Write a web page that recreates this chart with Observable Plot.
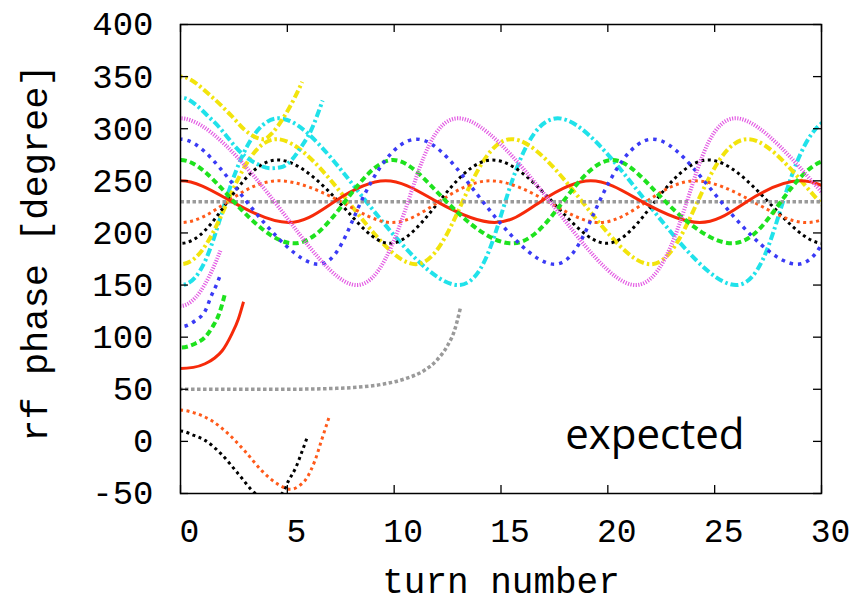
<!DOCTYPE html>
<html><head><meta charset="utf-8">
<script src="https://cdn.jsdelivr.net/npm/d3@7"></script>
<script src="https://cdn.jsdelivr.net/npm/@observablehq/plot@0.6"></script>
<style>body{margin:0;background:#fff}</style>
</head><body><div id="chart"></div>
<script>
// Tick labels
const xTicks = [0, 5, 10, 15, 20, 25, 30];
const yTicks = [-50, 0, 50, 100, 150, 200, 250, 300, 350, 400];
const xTitle = "turn number";
const yTitle = "rf phase [degree]";
const note = "expected";
const notePos = {turn: 22.2, phase: 6};

// [turn, rf phase] points, one array per starting phase
const phase10 = [[-1.15,1],[-0.6,6],[0,10],[0.6,6],[1.15,1],[1.9,-12],[2.7,-31],[3.5,-50],[4.1,-57],[4.75,-50],[5.05,-38],[5.4,-25],[5.7,-9],[5.95,5]];
const phase30 = [[-1.45,20],[-0.7,27],[0,30],[0.7,27],[1.45,20],[2.25,7],[3.0,-9],[3.8,-28],[4.55,-41],[5.15,-46],[5.6,-42],[5.85,-37],[6.3,-18],[6.6,1],[6.95,23]];
const phase50 = [[-4,50],[0,50],[2,50],[4,50],[6,50.2],[7,50.7],[8.3,52],[9.5,55],[10.5,60],[11.4,68],[12,78],[12.5,92],[12.8,105],[13.1,128]];
const phase70 = [[-1.15,74.5],[-0.6,71],[0,70],[0.6,71],[1.15,74.5],[1.6,80],[1.95,87],[2.4,103],[2.7,117],[2.95,134]];
const phase90 = [[-1.15,100],[-0.7,94],[0,90],[0.7,94],[1.15,100],[1.5,110],[1.8,122],[2.1,143]];
const phase110 = [[-1.15,125],[-0.7,116],[0,110],[0.7,116],[1.15,125],[1.45,140],[1.7,151],[1.87,160]];
const phase130 = [[-1.15,151],[-0.7,138],[0,130],[0.7,138],[1.15,151],[1.5,165],[1.87,183]];
const phase150 = [[-4.1,230],[0,150],[2.1,230],[4.6,310],[8.7,230],[13.0,150],[15.2,230],[17.65,310],[21.8,230],[26.0,150],[28.2,230],[30.65,310],[34.8,230]];
const phase170 = [[-3.3,230],[0,170],[2.2,230],[4.5,290],[7.85,230],[11.0,170],[13.2,230],[15.5,290],[18.8,230],[22.0,170],[24.2,230],[26.6,290],[29.9,230],[33,170]];
const phase190 = [[-2.9,230],[0,190],[2.2,230],[4.55,270],[7.4,230],[9.8,190],[12.1,230],[14.6,270],[17.4,230],[19.95,190],[22.2,230],[24.7,270],[27.5,230],[30.1,190],[32.3,230]];
const phase210 = [[-2.7,230],[0,210],[2.2,230],[4.6,250],[7.5,230],[9.9,210],[12.1,230],[14.5,250],[17.2,230],[19.6,210],[21.8,230],[24.1,250],[26.8,230],[29.3,210],[31.5,230]];
const phase230 = [[0,230],[30,230]];
const phase250 = [[-2.2,230],[0,250],[2.4,230],[5.05,210],[7.2,230],[9.6,250],[12.0,230],[14.7,210],[16.85,230],[19.2,250],[21.6,230],[24.3,210],[26.5,230],[29.0,250],[31.4,230]];
const phase270 = [[-2.3,230],[0,270],[2.5,230],[5.3,190],[7.7,230],[9.95,270],[12.45,230],[15.5,190],[17.9,230],[20.2,270],[22.7,230],[25.8,190],[28.1,230],[30.4,270],[32.9,230]];
const phase290 = [[-2.6,230],[0,290],[3.1,230],[6.45,170],[8.45,230],[11.05,290],[14.15,230],[17.5,170],[19.6,230],[22.1,290],[25.3,230],[28.85,170],[30.8,230]];
const phase310 = [[-2.4,230],[0,310],[4.4,230],[8.25,150],[10.65,230],[13.0,310],[17.3,230],[21.3,150],[23.7,230],[26.05,310],[30.4,230],[34.3,150]];
const phase330 = [[-1.5,308],[0,330],[1.5,308],[3.0,274],[3.6,266],[4.2,262],[4.7,263],[5.2,270],[5.6,281],[6.1,298],[6.65,327]];
const phase350 = [[-1.5,330],[0,350],[1.5,330],[2.4,312],[3.0,299],[3.5,292],[3.9,290],[4.3,296],[4.8,310],[5.3,328],[5.7,345]];

// line styles (gnuplot-like cycle)
const styles = {
  red:     {stroke: "#f62a0a", dash: null,        width: 3},
  green:   {stroke: "#1ee21e", dash: "6,3.5",     width: 4},
  blue:    {stroke: "#3a3af5", dash: "3.5,5",     width: 3.5},
  magenta: {stroke: "#e35ce3", dash: "1.2,1.4",   width: 4},
  cyan:    {stroke: "#20e2ea", dash: "8,3,2.5,3", width: 4},
  yellow:  {stroke: "#f2e40c", dash: "8,3,2.5,3", width: 4},
  black:   {stroke: "#000000", dash: "3,3.5",     width: 3},
  orange:  {stroke: "#ff5a1a", dash: "3,3.5",     width: 3},
  gray:    {stroke: "#9a9a9a", dash: "3.5,2.5",   width: 3.5}
};

const series = [
  {pts: phase10,  style: "black",   curve: "monotone-x"},
  {pts: phase30,  style: "orange",  curve: "monotone-x"},
  {pts: phase50,  style: "gray",    curve: "monotone-x"},
  {pts: phase70,  style: "red",     curve: "monotone-x"},
  {pts: phase90,  style: "green",   curve: "monotone-x"},
  {pts: phase110, style: "blue",    curve: "monotone-x"},
  {pts: phase130, style: "magenta", curve: "monotone-x"},
  {pts: phase150, style: "cyan",    curve: "natural"},
  {pts: phase170, style: "yellow",  curve: "natural"},
  {pts: phase190, style: "black",   curve: "natural"},
  {pts: phase210, style: "orange",  curve: "natural"},
  {pts: phase230, style: "gray",    curve: "linear"},
  {pts: phase250, style: "red",     curve: "natural"},
  {pts: phase270, style: "green",   curve: "natural"},
  {pts: phase290, style: "blue",    curve: "natural"},
  {pts: phase310, style: "magenta", curve: "natural"},
  {pts: phase330, style: "cyan",    curve: "monotone-x"},
  {pts: phase350, style: "yellow",  curve: "monotone-x"}
];

const W = 856, H = 605;
const mL = 180, mR = 35, mT = 24, mB = 112;
const fw = W - mL - mR, fh = H - mT - mB, tick = 8;

const lineMarks = series.map(s => {
  const st = styles[s.style];
  return Plot.line(s.pts.map(([turn, phase]) => ({turn, phase})), {
    x: "turn", y: "phase", stroke: st.stroke, strokeWidth: st.width,
    strokeDasharray: st.dash, strokeLinecap: "butt", strokeLinejoin: "miter",
    curve: s.curve, clip: true
  });
});

const chart = Plot.plot({
  width: W, height: H,
  marginLeft: mL, marginRight: mR, marginTop: mT, marginBottom: mB,
  style: {fontFamily: "Liberation Mono", background: "#fff", color: "#000"},
  x: {domain: [0, 30]},
  y: {domain: [-50, 400]},
  marks: [
    ...lineMarks,
    Plot.frame({stroke: "#000", strokeWidth: 1.5}),
    Plot.tickX(xTicks, {x: d => d, insetTop: fh - tick, stroke: "#000", strokeWidth: 1.3}),
    Plot.tickX(xTicks, {x: d => d, insetBottom: fh - tick, stroke: "#000", strokeWidth: 1.3}),
    Plot.tickY(yTicks, {y: d => d, insetRight: fw - tick, stroke: "#000", strokeWidth: 1.3}),
    Plot.tickY(yTicks, {y: d => d, insetLeft: fw - tick, stroke: "#000", strokeWidth: 1.3}),
    Plot.axisX({ticks: xTicks, tickSize: 0, tickPadding: 25, fontSize: 33, dx: 9, label: null, tickFormat: d => String(d)}),
    Plot.axisY({ticks: yTicks, tickSize: 0, tickPadding: 27, fontSize: 34, label: null, tickFormat: d => d < 0 ? "-" + Math.abs(d) : String(d)}),
    Plot.text([xTitle], {frameAnchor: "bottom", dy: 88, lineAnchor: "middle", fontSize: 36, text: d => d}),
    Plot.text([yTitle], {frameAnchor: "left", dx: -145, dy: -6, rotate: -90, textAnchor: "middle", lineAnchor: "middle", fontSize: 37, text: d => d}),
    Plot.text([note], {x: () => notePos.turn, y: () => notePos.phase, text: d => d, fontSize: 42, fontFamily: "Open Sans"})
  ]
});
document.getElementById("chart").appendChild(chart);
</script>
</body></html>
